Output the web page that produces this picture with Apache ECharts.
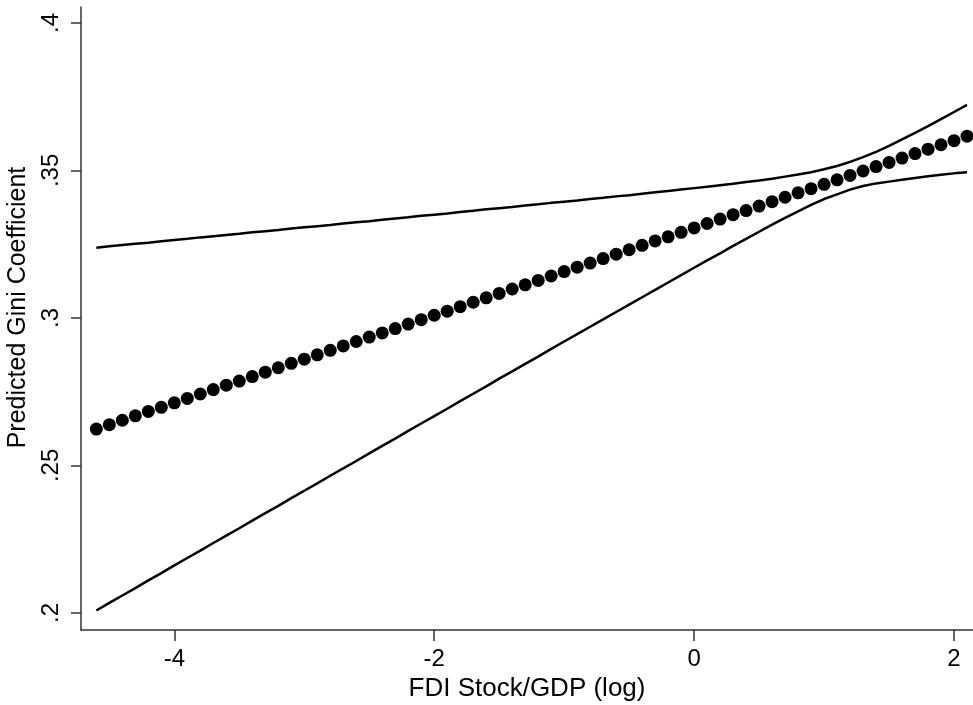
<!DOCTYPE html>
<html>
<head>
<meta charset="utf-8">
<script src="https://cdn.jsdelivr.net/npm/echarts@6/dist/echarts.min.js"></script>
<style>
  html, body { margin: 0; padding: 0; background: #fff; }
  #chart { width: 973px; height: 705px; }
</style>
</head>
<body>
<div id="chart"></div>
<script>
// FDI stock / GDP (log), one point every 0.1
const fdiLog = [
  -4.6, -4.5, -4.4, -4.3, -4.2, -4.1, -4.0, -3.9, -3.8, -3.7,
  -3.6, -3.5, -3.4, -3.3, -3.2, -3.1, -3.0, -2.9, -2.8, -2.7,
  -2.6, -2.5, -2.4, -2.3, -2.2, -2.1, -2.0, -1.9, -1.8, -1.7,
  -1.6, -1.5, -1.4, -1.3, -1.2, -1.1, -1.0, -0.9, -0.8, -0.7,
  -0.6, -0.5, -0.4, -0.3, -0.2, -0.1, 0.0, 0.1, 0.2, 0.3,
  0.4, 0.5, 0.6, 0.7, 0.8, 0.9, 1.0, 1.1, 1.2, 1.3,
  1.4, 1.5, 1.6, 1.7, 1.8, 1.9, 2.0, 2.1
]

// predicted gini (dots)
const predicted = [
  0.2623, 0.2638, 0.2653, 0.2668, 0.2683, 0.2697, 0.2712, 0.2727, 0.2742, 0.2757,
  0.2772, 0.2786, 0.2801, 0.2816, 0.2831, 0.2846, 0.2860, 0.2875, 0.2890, 0.2905,
  0.2920, 0.2935, 0.2949, 0.2964, 0.2979, 0.2994, 0.3009, 0.3023, 0.3038, 0.3053,
  0.3068, 0.3083, 0.3098, 0.3112, 0.3127, 0.3142, 0.3157, 0.3172, 0.3186, 0.3201,
  0.3216, 0.3231, 0.3246, 0.3261, 0.3275, 0.3290, 0.3305, 0.3320, 0.3335, 0.3350,
  0.3364, 0.3379, 0.3394, 0.3409, 0.3424, 0.3438, 0.3453, 0.3468, 0.3483, 0.3498,
  0.3513, 0.3527, 0.3542, 0.3557, 0.3572, 0.3587, 0.3601, 0.3616
]

// upper bound
const upperCI = [
  0.3238, 0.3243, 0.3247, 0.3251, 0.3255, 0.3260, 0.3264, 0.3268, 0.3273, 0.3277,
  0.3281, 0.3285, 0.3290, 0.3294, 0.3298, 0.3303, 0.3307, 0.3311, 0.3315, 0.3320,
  0.3324, 0.3328, 0.3333, 0.3337, 0.3341, 0.3346, 0.3350, 0.3354, 0.3359, 0.3363,
  0.3368, 0.3372, 0.3376, 0.3381, 0.3385, 0.3390, 0.3394, 0.3398, 0.3403, 0.3407,
  0.3412, 0.3416, 0.3421, 0.3426, 0.3430, 0.3435, 0.3440, 0.3445, 0.3450, 0.3455,
  0.3461, 0.3466, 0.3472, 0.3479, 0.3486, 0.3494, 0.3504, 0.3515, 0.3529, 0.3545,
  0.3563, 0.3583, 0.3605, 0.3627, 0.3650, 0.3674, 0.3698, 0.3722
]

// lower bound
const lowerCI = [
  0.2008, 0.2034, 0.2059, 0.2084, 0.2110, 0.2135, 0.2161, 0.2186, 0.2211, 0.2237,
  0.2262, 0.2287, 0.2313, 0.2338, 0.2363, 0.2389, 0.2414, 0.2439, 0.2465, 0.2490,
  0.2515, 0.2541, 0.2566, 0.2591, 0.2617, 0.2642, 0.2667, 0.2692, 0.2718, 0.2743,
  0.2768, 0.2794, 0.2819, 0.2844, 0.2869, 0.2895, 0.2920, 0.2945, 0.2970, 0.2995,
  0.3020, 0.3045, 0.3070, 0.3095, 0.3120, 0.3145, 0.3170, 0.3195, 0.3219, 0.3244,
  0.3268, 0.3292, 0.3316, 0.3339, 0.3361, 0.3383, 0.3403, 0.3419, 0.3435, 0.3447,
  0.3456, 0.3462, 0.3468, 0.3474, 0.3480, 0.3485, 0.3490, 0.3494
]

const xTicks = [-4, -2, 0, 2]
const yTicks = [0.2, 0.25, 0.3, 0.35, 0.4]

const font = 'Liberation Sans, Arial, Helvetica, sans-serif'
const axisColor = '#333'

function pairs(ys) {
    return fdiLog.map((x, i) => [x, ys[i]])
}

let chart = echarts.init(document.getElementById('chart'), null, {renderer: 'canvas'})

let options = {
    backgroundColor: '#fff',
    animation: false,
    grid: {
        left: 81,
        right: 0,
        top: 7,
        bottom: 75,
        outerBoundsMode: 'none'
    },
    xAxis: {
        type: 'value',
        min: -4.718,
        max: 2.146,
        name: 'FDI Stock/GDP (log)',
        nameLocation: 'middle',
        nameGap: 31,
        nameTextStyle: {fontFamily: font, fontSize: 26, color: '#000'},
        axisLine: {show: true, onZero: false, lineStyle: {color: axisColor, width: 1.5}},
        axisTick: {show: true, length: 11, customValues: xTicks, lineStyle: {color: axisColor, width: 1.5}},
        axisLabel: {
            customValues: xTicks,
            fontFamily: font,
            fontSize: 24,
            color: '#000',
            margin: 17
        },
        splitLine: {show: false}
    },
    yAxis: {
        type: 'value',
        min: 0.1942,
        max: 0.4054,
        name: 'Predicted Gini Coefficient',
        nameLocation: 'middle',
        nameGap: 50,
        nameTextStyle: {fontFamily: font, fontSize: 25, color: '#000', padding: [0, 0, 0, 22]},
        axisLine: {show: true, onZero: false, lineStyle: {color: axisColor, width: 1.5}},
        axisTick: {show: true, length: 10, customValues: yTicks, lineStyle: {color: axisColor, width: 1.5}},
        axisLabel: {
            customValues: yTicks,
            rotate: 90,
            fontFamily: font,
            fontSize: 24,
            color: '#000',
            margin: 18,
            formatter: v => String(+v.toFixed(2)).replace(/^0/, '')
        },
        splitLine: {show: false}
    },
    series: [
        {
            name: 'upper',
            type: 'line',
            data: pairs(upperCI),
            showSymbol: false,
            symbol: 'none',
            lineStyle: {color: '#000', width: 2.5}
        },
        {
            name: 'lower',
            type: 'line',
            data: pairs(lowerCI),
            showSymbol: false,
            symbol: 'none',
            lineStyle: {color: '#000', width: 2.5}
        },
        {
            name: 'predicted',
            type: 'scatter',
            data: pairs(predicted),
            symbol: 'circle',
            symbolSize: 13,
            itemStyle: {color: '#000', opacity: 1}
        }
    ]
}

chart.setOption(options)
</script>
</body>
</html>
